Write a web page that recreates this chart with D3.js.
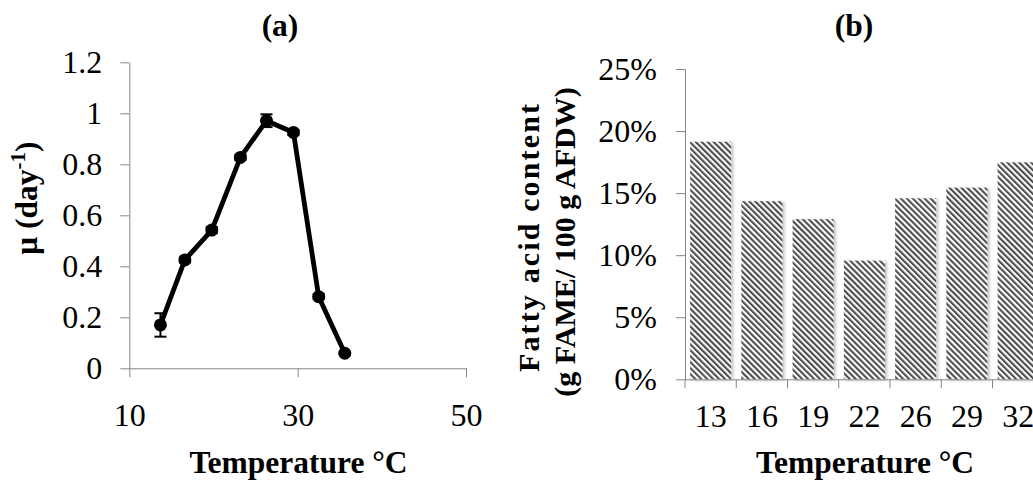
<!DOCTYPE html>
<html>
<head>
<meta charset="utf-8">
<script src="https://d3js.org/d3.v7.min.js"></script>
<style>
body { margin: 0; background: #fff; overflow: hidden; }
svg { display: block; font-family: "Liberation Serif", "Times New Roman", serif; }
.axis path, .axis line { stroke: #868686; stroke-width: 1; fill: none; }
.axis text { font-family: "Liberation Serif", "Times New Roman", serif; font-size: 32px; fill: #000; }
.label { font-weight: bold; font-size: 31.5px; fill: #000; }
</style>
</head>
<body>
<svg id="chart" width="1033" height="484"></svg>
<script>
// (a) specific growth rate vs temperature
var growthTemp = [13.7, 16.6, 19.8, 23.2, 26.3, 29.5, 32.5, 35.6];
var growthRate = [0.17, 0.425, 0.542, 0.827, 0.971, 0.925, 0.281, 0.059];
var growthErr  = [0.046, 0.01, 0.012, 0.01, 0.025, 0.01, 0.01, 0.005];
var xTicksA = [10, 30, 50];
var yTicksA = [0, 0.2, 0.4, 0.6, 0.8, 1, 1.2];

// (b) fatty acid content per temperature
var fameTemp = ["13", "16", "19", "22", "26", "29", "32"];
var fameContent = [0.1914, 0.1435, 0.129, 0.0956, 0.1458, 0.1544, 0.1748];
var yTicksB = [0, 0.05, 0.1, 0.15, 0.2, 0.25];

var svg = d3.select("#chart");

// ---------- panel (a) ----------
var xA = d3.scaleLinear().domain([10, 50]).range([129.3, 466]);
var yA = d3.scaleLinear().domain([0, 1.2]).range([368.3, 62.3]);

var xAxisA = svg.append("g").attr("class", "axis")
  .attr("transform", "translate(0," + yA(0) + ")")
  .call(d3.axisBottom(xA).tickValues(xTicksA).tickSize(9).tickSizeOuter(0).tickFormat(d3.format("d")));
xAxisA.selectAll("text").attr("y", 58).attr("dy", null);

var yAxisA = svg.append("g").attr("class", "axis")
  .attr("transform", "translate(" + xA(10) + ",0)")
  .call(d3.axisLeft(yA).tickValues(yTicksA).tickSize(9).tickPadding(18).tickSizeOuter(0).tickFormat(d3.format("~g")));
yAxisA.selectAll("text").attr("dy", "0.33em");

var ptsA = growthTemp.map(function (t, i) { return { t: t, v: growthRate[i], e: growthErr[i] }; });

// error bars
var eb = svg.append("g").attr("stroke", "#000").attr("stroke-width", 2);
ptsA.forEach(function (d) {
  var cx = xA(d.t);
  eb.append("line").attr("x1", cx).attr("x2", cx).attr("y1", yA(d.v - d.e)).attr("y2", yA(d.v + d.e));
  eb.append("line").attr("x1", cx - 6).attr("x2", cx + 6).attr("y1", yA(d.v - d.e)).attr("y2", yA(d.v - d.e));
  eb.append("line").attr("x1", cx - 6).attr("x2", cx + 6).attr("y1", yA(d.v + d.e)).attr("y2", yA(d.v + d.e));
});

var line = d3.line().x(function (d) { return xA(d.t); }).y(function (d) { return yA(d.v); });
svg.append("path").datum(ptsA).attr("d", line)
  .attr("fill", "none").attr("stroke", "#000").attr("stroke-width", 4.8).attr("stroke-linejoin", "round");

svg.append("g").selectAll("circle").data(ptsA).enter().append("circle")
  .attr("cx", function (d) { return xA(d.t); })
  .attr("cy", function (d) { return yA(d.v); })
  .attr("r", 6.5).attr("fill", "#000");

svg.append("text").attr("class", "label").attr("x", 280).attr("y", 36).attr("text-anchor", "middle").text("(a)");
svg.append("text").attr("class", "label").attr("x", 298.5).attr("y", 473).attr("text-anchor", "middle").text("Temperature \u00B0C");

var yTitleA = svg.append("text").attr("class", "label")
  .attr("transform", "translate(37,198) rotate(-90)").attr("text-anchor", "middle");
yTitleA.append("tspan").text("\u03BC (day");
yTitleA.append("tspan").attr("dy", -12).style("font-size", "21px").text("-1");
yTitleA.append("tspan").attr("dy", 12).text(")");

// ---------- panel (b) ----------
var defs = svg.append("defs");
var pat = defs.append("pattern").attr("id", "stripes").attr("patternUnits", "userSpaceOnUse")
  .attr("width", 4.2).attr("height", 4.2).attr("patternTransform", "rotate(-45)");
pat.append("rect").attr("width", 4.2).attr("height", 4.2).attr("fill", "#fff");
pat.append("rect").attr("width", 2.1).attr("height", 4.2).attr("fill", "#4d4d4d");

var shadow = defs.append("filter").attr("id", "barshadow")
  .attr("x", "-20%").attr("y", "-10%").attr("width", "150%").attr("height", "130%");
shadow.append("feDropShadow").attr("dx", 2).attr("dy", 1).attr("stdDeviation", 1.5)
  .attr("flood-color", "#000").attr("flood-opacity", 0.25);

var xB = d3.scaleBand().domain(fameTemp).range([685, 1043.75]).paddingInner(0.2).paddingOuter(0.1);
var yB = d3.scaleLinear().domain([0, 0.25]).range([379.3, 69]);

svg.append("g").selectAll("rect").data(fameTemp).enter().append("rect")
  .attr("x", function (d) { return xB(d); })
  .attr("width", xB.bandwidth())
  .attr("y", function (d, i) { return yB(fameContent[i]); })
  .attr("height", function (d, i) { return yB(0) - yB(fameContent[i]); })
  .attr("fill", "url(#stripes)")
  .attr("filter", "url(#barshadow)");

var yAxisB = svg.append("g").attr("class", "axis")
  .attr("transform", "translate(685,0)")
  .call(d3.axisLeft(yB).tickValues(yTicksB).tickSize(9).tickPadding(19).tickSizeOuter(0).tickFormat(d3.format(".0%")));
yAxisB.selectAll("text").attr("dy", "0.33em");

var xAxisB = svg.append("g").attr("class", "axis")
  .attr("transform", "translate(0," + yB(0) + ")")
  .call(d3.axisBottom(xB).tickSize(0).tickSizeOuter(0));
xAxisB.selectAll("text").attr("y", 47.4).attr("dy", null);
// Excel-style ticks between categories
xAxisB.selectAll("line.sep").data(fameTemp).enter().append("line").attr("class", "sep")
  .attr("x1", function (d) { return xB(d) - xB.step() * xB.paddingInner() / 2; })
  .attr("x2", function (d) { return xB(d) - xB.step() * xB.paddingInner() / 2; })
  .attr("y1", 0).attr("y2", 9);

svg.append("text").attr("class", "label").attr("x", 854).attr("y", 36).attr("text-anchor", "middle").text("(b)");
svg.append("text").attr("class", "label").attr("x", 865).attr("y", 473).attr("text-anchor", "middle").text("Temperature \u00B0C");
svg.append("text").attr("class", "label").attr("transform", "translate(539,238) rotate(-90)")
  .style("font-size", "30px").attr("text-anchor", "middle")
  .attr("textLength", 268).attr("lengthAdjust", "spacing").text("Fatty acid content");
svg.append("text").attr("class", "label").attr("transform", "translate(575,242) rotate(-90)")
  .style("font-size", "30px").attr("text-anchor", "middle").text("(g FAME/ 100 g AFDW)");
</script>
</body>
</html>
